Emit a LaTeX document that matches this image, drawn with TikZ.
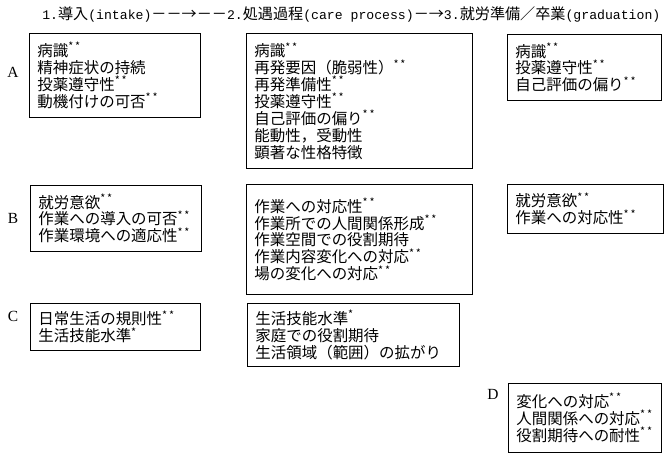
\documentclass[tikz,border=0pt]{standalone}
\usepackage{fontspec}
\setmainfont{Noto Sans CJK JP}
\setmonofont{Liberation Mono}[Scale=0.87]
\newfontfamily\rowfont{Liberation Serif}
\usepackage{tikz}
\usetikzlibrary{positioning}
\newcommand{\sigb}{\textsuperscript{*\,*}}
\newcommand{\siga}{\textsuperscript{*}}
\tikzset{
    stagehead/.style={anchor=west, inner sep=0pt, font=\fontsize{10.75pt}{13pt}\selectfont},
    itembox/.style={draw, line width=0.6pt, anchor=north west, align=left, inner xsep=0.2cm, inner ysep=0pt, font=\fontsize{11pt}{12pt}\selectfont},
    rowlbl/.style={font=\rowfont\fontsize{11pt}{13pt}\selectfont, inner sep=0pt},
}

\begin{document}
\begin{tikzpicture}[x=0.025cm, y=-0.025cm]
        \useasboundingbox (0,0) rectangle (672,458);
        % 見出し
        \node[stagehead] (head) at (42,14) {{\ttfamily 1.}導入{\ttfamily (intake)}－－→－－{\ttfamily 2.}処遇過程{\ttfamily (care process)}－→{\ttfamily 3.}就労準備／卒業{\ttfamily (graduation)}};
        % 行A
        \node[itembox, text width=3.875cm, minimum height=2.1cm] (a1) at (29,33) {病識\sigb\\精神症状の持続\\投薬遵守性\sigb\\動機付けの可否\sigb};
        \node[itembox, text width=5.25cm, minimum height=3.375cm] (a2) at (246,33) {病識\sigb\\再発要因（脆弱性）\sigb\\再発準備性\sigb\\投薬遵守性\sigb\\自己評価の偏り\sigb\\能動性，受動性\\顕著な性格特徴};
        \node[itembox, text width=3.45cm, minimum height=1.65cm] (a3) at (507,34) {病識\sigb\\投薬遵守性\sigb\\自己評価の偏り\sigb};
        % 行B
        \node[itembox, text width=3.875cm, minimum height=1.65cm] (b1) at (30,185) {就労意欲\sigb\\作業への導入の可否\sigb\\作業環境への適応性\sigb};
        \node[itembox, text width=5.25cm, minimum height=2.75cm] (b2) at (246,184) {作業への対応性\sigb\\作業所での人間関係形成\sigb\\作業空間での役割期待\\作業内容変化への対応\sigb\\場の変化への対応\sigb};
        \node[itembox, text width=3.5cm, minimum height=1.225cm] (b3) at (507,184) {就労意欲\sigb\\作業への対応性\sigb};
        % 行C
        \node[itembox, text width=3.85cm, minimum height=1.175cm] (c1) at (30,303) {日常生活の規則性\sigb\\生活技能水準\siga};
        \node[itembox, text width=4.9cm, minimum height=1.575cm] (c2) at (247,303) {生活技能水準\siga\\家庭での役割期待\\生活領域（範囲）の拡がり};
        % 行D
        \node[itembox, text width=3.425cm, minimum height=1.725cm] (d1) at (508,383) {変化への対応\sigb\\人間関係への対応\sigb\\役割期待への耐性\sigb};
        % 行ラベル
        \node[rowlbl] (lblA) at (13,72)  {A};
        \node[rowlbl] (lblB) at (13,218) {B};
        \node[rowlbl] (lblC) at (13,316) {C};
        \node[rowlbl] (lblD) at (493,394) {D};
    \end{tikzpicture}
\end{document}
